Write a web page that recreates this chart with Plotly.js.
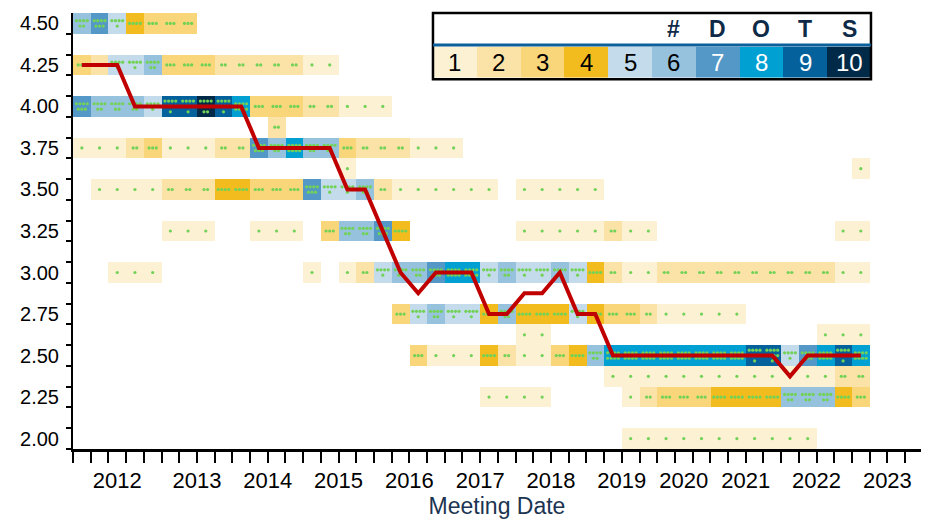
<!DOCTYPE html>
<html><head><meta charset="utf-8">
<script src="https://cdn.plot.ly/plotly-3.0.1.min.js"></script>
<style>html,body{margin:0;padding:0;background:#fff}#chart{width:934px;height:519px}</style>
</head><body><div id="chart"></div>
<script>
// Meetings (Summary of Economic Projections), one column each
const meetings = ['Jan 2012','Apr 2012','Jun 2012','Sep 2012','Dec 2012',
  'Mar 2013','Jun 2013','Sep 2013','Dec 2013','Mar 2014','Jun 2014','Sep 2014','Dec 2014',
  'Mar 2015','Jun 2015','Sep 2015','Dec 2015','Mar 2016','Jun 2016','Sep 2016','Dec 2016',
  'Mar 2017','Jun 2017','Sep 2017','Dec 2017','Mar 2018','Jun 2018','Sep 2018','Dec 2018',
  'Mar 2019','Jun 2019','Sep 2019','Dec 2019','Jun 2020','Sep 2020','Dec 2020',
  'Mar 2021','Jun 2021','Sep 2021','Dec 2021','Mar 2022','Jun 2022','Sep 2022','Dec 2022','Mar 2023'];

// Rate levels (longer-run fed funds estimate, %)
const levels = [4.5,4.375,4.25,4.125,4.0,3.875,3.75,3.625,3.5,3.375,3.25,3.125,3.0,2.875,2.75,2.625,2.5,2.375,2.25,2.125,2.0];

// Number of dots at each level, per meeting
const dots450  = [6,7,5,4,3,3,3,0,0,0,0,0,0,0,0,0,0,0,0,0,0,0,0,0,0,0,0,0,0,0,0,0,0,0,0,0,0,0,0,0,0,0,0,0,0];
const dots425  = [3,2,5,5,6,3,3,3,2,2,2,2,2,1,1,0,0,0,0,0,0,0,0,0,0,0,0,0,0,0,0,0,0,0,0,0,0,0,0,0,0,0,0,0,0];
const dots400  = [7,6,6,6,5,9,9,10,9,8,3,3,3,2,2,1,1,1,0,0,0,0,0,0,0,0,0,0,0,0,0,0,0,0,0,0,0,0,0,0,0,0,0,0,0];
const dots3875 = [0,0,0,0,0,0,0,0,0,0,0,2,0,0,0,0,0,0,0,0,0,0,0,0,0,0,0,0,0,0,0,0,0,0,0,0,0,0,0,0,0,0,0,0,0];
const dots375  = [1,1,1,2,3,1,1,1,2,2,7,6,8,6,6,3,2,2,2,1,1,1,0,0,0,0,0,0,0,0,0,0,0,0,0,0,0,0,0,0,0,0,0,0,0];
const dots3625 = [0,0,0,0,0,0,0,0,0,0,0,0,0,0,0,1,0,0,0,0,0,0,0,0,0,0,0,0,0,0,0,0,0,0,0,0,0,0,0,0,0,0,0,0,1];
const dots350  = [0,1,1,1,1,2,2,2,4,4,3,3,3,7,5,5,6,2,1,1,1,1,1,1,0,1,1,1,1,1,0,0,0,0,0,0,0,0,0,0,0,0,0,0,0];
const dots325  = [0,0,0,0,0,1,1,1,0,0,1,1,1,0,3,6,6,7,4,0,0,0,0,0,0,1,1,1,1,1,2,1,1,0,0,0,0,0,0,0,0,0,0,1,1];
const dots300  = [0,0,1,1,1,0,0,0,0,0,0,0,0,1,0,1,2,5,6,6,7,8,8,5,6,5,5,6,5,4,2,1,1,2,2,2,2,2,2,2,2,2,2,1,1];
const dots275  = [0,0,0,0,0,0,0,0,0,0,0,0,0,0,0,0,0,0,3,5,6,5,5,4,6,4,4,4,5,4,3,3,2,1,1,1,1,1,0,0,0,0,0,0,0];
const dots2625 = [0,0,0,0,0,0,0,0,0,0,0,0,0,0,0,0,0,0,0,0,0,0,0,0,0,1,1,0,0,0,0,0,0,0,0,0,0,0,0,0,0,0,1,1,1];
const dots250  = [0,0,0,0,0,0,0,0,0,0,0,0,0,0,0,0,0,0,0,3,1,1,1,4,2,1,1,3,4,6,8,8,8,8,8,8,8,8,9,9,5,7,8,9,8];
const dots2375 = [0,0,0,0,0,0,0,0,0,0,0,0,0,0,0,0,0,0,0,0,0,0,0,0,0,0,0,0,0,0,1,1,1,1,1,1,1,1,1,1,1,1,1,2,2];
const dots225  = [0,0,0,0,0,0,0,0,0,0,0,0,0,0,0,0,0,0,0,0,0,0,0,1,1,1,1,0,0,0,0,1,2,3,3,3,4,4,4,4,6,6,6,4,3];
const dots200  = [0,0,0,0,0,0,0,0,0,0,0,0,0,0,0,0,0,0,0,0,0,0,0,0,0,0,0,0,0,0,0,1,1,1,1,1,1,1,1,1,1,1,0,0,0];

// Median longer-run estimate per meeting
const median = [4.25,4.25,4.25,4.0,4.0,4.0,4.0,4.0,4.0,4.0,3.75,3.75,3.75,3.75,3.75,3.5,3.5,3.25,3.0,2.875,3.0,3.0,3.0,2.75,2.75,2.875,2.875,3.0,2.75,2.75,2.5,2.5,2.5,2.5,2.5,2.5,2.5,2.5,2.5,2.5,2.375,2.5,2.5,2.5,2.5];

// Legend
const legendCounts = [1,2,3,4,5,6,7,8,9,10];
const legendHeader = ['#','D','O','T','S'];
const yearLabels = ['2012','2013','2014','2015','2016','2017','2018','2019','2020','2021','2022','2023'];
const yTickLabels = ['2.00','2.25','2.50','2.75','3.00','3.25','3.50','3.75','4.00','4.25','4.50'];

// ---------- styling / assembly ----------
const palette = ['#fdf1d4','#fbe3a7','#f9d679','#f3bc1e','#c3dbeb','#97c2de','#5398c6','#00a0d3','#05619c','#002a47'];
const scale = [];
palette.forEach((c,i)=>{scale.push([i/10,c]);scale.push([(i+1)/10,c]);});

const rowData = {4.5:dots450,4.25:dots425,4.0:dots400,3.875:dots3875,3.75:dots375,3.625:dots3625,3.5:dots350,
  3.25:dots325,3.0:dots300,2.75:dots275,2.625:dots2625,2.5:dots250,2.375:dots2375,2.25:dots225,2.0:dots200};
const nCol = meetings.length;
const xIdx = meetings.map((m,i)=>i);
const z = levels.map(l => rowData[l] ? rowData[l].map(v => v>0 ? v : null) : new Array(nCol).fill(null));

// dots positions derived from counts (4 per row)
const pxX = 848/47.9, pxY = 436/2.625;
const dx = 3.6/pxX, dy = 5.4/pxY;
const dotX = [], dotY = [];
levels.forEach(l => {
  const arr = rowData[l]; if(!arr) return;
  arr.forEach((n,i) => {
    if(!n) return;
    const R = Math.ceil(n/4);
    for(let r=0;r<R;r++){
      const m = Math.min(4, n - r*4);
      for(let j=0;j<m;j++){
        dotX.push(i + (j-(m-1)/2)*dx);
        dotY.push(l - (r-(R-1)/2)*dy);
      }
    }
  });
});

const FONT = '"Liberation Sans Narrow", "Arial Narrow", "Liberation Sans", Arial, sans-serif';

const traces = [
  {type:'heatmap', x:xIdx, y:levels, z:z, colorscale:scale, zmin:0.5, zmax:10.5, showscale:false, hoverinfo:'skip'},
  {type:'scatter', mode:'markers', x:dotX, y:dotY, marker:{size:3.2, color:'#72d257'}, hoverinfo:'skip', showlegend:false},
  {type:'scatter', mode:'lines', x:xIdx, y:median, line:{color:'#c00000', width:4}, hoverinfo:'skip', showlegend:false},
  {type:'scatter', x:[], y:[], xaxis:'x2', yaxis:'y2', showlegend:false, hoverinfo:'skip'},
  {type:'heatmap', x:legendCounts, y:[0], z:[legendCounts], xaxis:'x3', yaxis:'y3', colorscale:scale, zmin:0.5, zmax:10.5, showscale:false, hoverinfo:'skip'}
];

const xr = [-0.5, 47.4], yr = [1.9375, 4.5625];
const annotations = [];
legendCounts.forEach(v => annotations.push({x:v, y:0, xref:'x3', yref:'y3', text:String(v), showarrow:false,
  font:{family:FONT, size:24, color: v>=7 ? '#ffffff' : '#000000'}}));
legendHeader.forEach((t,k) => annotations.push({x:6+k, y:0.963, xref:'x3', yref:'paper', yanchor:'middle', xanchor:'center',
  text:'<b>'+t+'</b>', showarrow:false, font:{family:FONT, size:23, color:'#0e2a47'}}));

const layout = {
  width:934, height:519, margin:{l:73, r:13, t:13, b:70},
  paper_bgcolor:'#fff', plot_bgcolor:'#fff', showlegend:false,
  font:{family:FONT, color:'#000'},
  xaxis:{range:xr, tickvals:Array.from({length:48},(_,k)=>k-0.5), ticks:'outside', ticklen:11, tickwidth:2, tickcolor:'#000',
    showticklabels:false, showline:true, linewidth:2.5, linecolor:'#000', showgrid:false, zeroline:false, fixedrange:true},
  yaxis:{range:yr, tickvals:Array.from({length:21},(_,k)=>1.9375+0.125*k), ticks:'outside', ticklen:5, tickwidth:2, tickcolor:'#000',
    showticklabels:false, showline:true, linewidth:2.5, linecolor:'#000', showgrid:false, zeroline:false, fixedrange:true},
  xaxis2:{overlaying:'x', anchor:'y', side:'bottom', range:xr, tickvals:[2,6.5,10.5,14.5,18.5,22.5,26.5,30.5,34,37.5,41.5,45.5],
    ticktext:yearLabels, ticks:'', showline:false, showgrid:false, zeroline:false, ticklabelstandoff:16,
    tickfont:{family:FONT, size:22, color:'#000'},
    title:{text:'Meeting Date', standoff:2, font:{family:'"Liberation Sans", Arial, sans-serif', size:23, color:'#1b3452'}}},
  yaxis2:{overlaying:'y', anchor:'x', side:'left', range:yr, tickvals:[2,2.25,2.5,2.75,3,3.25,3.5,3.75,4,4.25,4.5],
    ticktext:yTickLabels, ticks:'', showline:false, showgrid:false, zeroline:false, ticklabelstandoff:13,
    tickfont:{family:FONT, size:20, color:'#000'}},
  xaxis3:{domain:[0.4245,0.941], anchor:'y3', range:[0.5,10.5], visible:false, fixedrange:true},
  yaxis3:{domain:[0.851,0.923], anchor:'x3', range:[-0.5,0.5], visible:false, fixedrange:true},
  shapes:[
    {type:'rect', xref:'paper', yref:'paper', x0:0.4245, x1:0.941, y0:0.848, y1:1.0, line:{color:'#000', width:2.5}, fillcolor:'rgba(0,0,0,0)', layer:'above'},
    {type:'line', xref:'paper', yref:'paper', x0:0.4245, x1:0.941, y0:0.9266, y1:0.9266, line:{color:'#0b5f9b', width:3}, layer:'above'}
  ],
  annotations:annotations
};
Plotly.newPlot('chart', traces, layout, {staticPlot:true, displayModeBar:false});
</script></body></html>
